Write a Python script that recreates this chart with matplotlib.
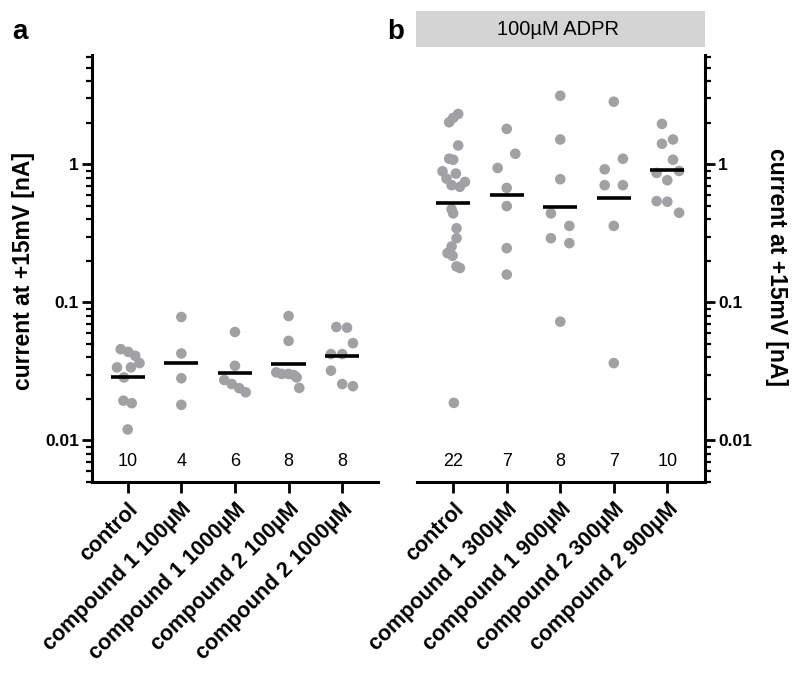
import matplotlib
matplotlib.use('Agg')
import matplotlib.pyplot as plt
import matplotlib.ticker as mticker
import matplotlib.transforms as mtrans
from matplotlib.patches import Rectangle
import numpy as np

plt.rcParams['font.family'] = ['Liberation Sans', 'DejaVu Sans']

# ---- panel a: no ADPR
labels_a = ['control', 'compound 1 100µM', 'compound 1 1000µM',
            'compound 2 100µM', 'compound 2 1000µM']
vals_a = [
    [0.0458, 0.0438, 0.0410, 0.0363, 0.0338, 0.0338, 0.0286, 0.0194, 0.0186, 0.0120],
    [0.0783, 0.0426, 0.0282, 0.0181],
    [0.0610, 0.0347, 0.0274, 0.0256, 0.0239, 0.0223],
    [0.0796, 0.0526, 0.0311, 0.0303, 0.0303, 0.0297, 0.0286, 0.0240],
    [0.0663, 0.0656, 0.0506, 0.0422, 0.0422, 0.0320, 0.0256, 0.0247],
]
dx_a = [
    [-0.13, 0.01, 0.14, 0.22, -0.20, 0.06, -0.07, -0.08, 0.075, 0.0],
    [0.0, 0.0, 0.0, 0.0],
    [0.0, 0.0, -0.20, -0.06, 0.08, 0.20],
    [0.0, 0.0, -0.23, -0.13, 0.0, 0.10, 0.15, 0.20],
    [-0.11, 0.09, 0.20, -0.21, 0.0, -0.21, 0.0, 0.20],
]
means_a = [0.029, 0.0363, 0.0306, 0.0357, 0.0410]
n_a = [10, 4, 6, 8, 8]

# ---- panel b: 100µM ADPR
labels_b = ['control', 'compound 1 300µM', 'compound 1 900µM',
            'compound 2 300µM', 'compound 2 900µM']
vals_b = [
    [2.316, 2.168, 2.017, 1.370, 1.098, 1.080, 0.890, 0.857, 0.788, 0.746, 0.706,
     0.687, 0.472, 0.441, 0.344, 0.2915, 0.254, 0.2275, 0.2176, 0.1823, 0.1773, 0.0187],
    [1.807, 1.193, 0.941, 0.675, 0.498, 0.247, 0.159],
    [3.139, 1.514, 0.780, 0.441, 0.358, 0.2915, 0.2685, 0.0725],
    [2.842, 1.098, 0.920, 0.706, 0.706, 0.358, 0.0363],
    [1.963, 1.409, 1.514, 1.080, 0.866, 0.895, 0.767, 0.541, 0.536, 0.446],
]
dx_b = [
    [0.093, 0.0, -0.075, 0.093, -0.075, 0.0, -0.20, 0.05, -0.125, 0.22, -0.03,
     0.125, -0.03, 0.0, 0.062, 0.062, -0.03, -0.106, -0.012, 0.062, 0.125, 0.012],
    [0.0, 0.16, -0.17, 0.0, 0.0, 0.0, 0.0],
    [0.0, 0.0, 0.0, -0.175, 0.17, -0.175, 0.17, 0.0],
    [0.0, 0.17, -0.17, -0.17, 0.17, 0.0, 0.0],
    [-0.10, -0.10, 0.106, 0.106, -0.20, 0.22, 0.0, -0.20, 0.0, 0.22],
]
means_b = [0.521, 0.598, 0.493, 0.566, 0.905]
n_b = [22, 7, 8, 7, 10]

dot_color = '#a0a0a5'
ylabel = 'current at +15mV [nA]'


def draw_panel(ax, labels, vals, dx, means, n, side):
    for i in range(len(labels)):
        x = i + np.array(dx[i])
        ax.scatter(x, vals[i], s=58, color=dot_color, edgecolors='none', zorder=2)
        ax.hlines(means[i], i - 0.32, i + 0.32, color='black', lw=2.6, zorder=3)
    # group sizes along the bottom
    trans = mtrans.blended_transform_factory(ax.transData, ax.transAxes)
    for i, c in enumerate(n):
        ax.text(i, 0.049, str(c), transform=trans, ha='center', va='center', fontsize=13)

    ax.set_yscale('log')
    ax.set_ylim(0.005, 6.2)
    ax.yaxis.set_major_locator(mticker.FixedLocator([0.01, 0.1, 1]))
    ax.yaxis.set_major_formatter(mticker.FixedFormatter(['0.01', '0.1', '1']))
    ax.yaxis.set_minor_locator(mticker.LogLocator(base=10, subs=np.arange(2, 10), numticks=20))
    ax.yaxis.set_minor_formatter(mticker.NullFormatter())

    ax.set_xticks(range(len(labels)))
    ax.set_xticklabels(labels, rotation=45, ha='right', rotation_mode='anchor',
                       fontsize=15.5, fontweight='bold')
    for s in ['top', 'left', 'right', 'bottom']:
        ax.spines[s].set_linewidth(2.2)
    ax.spines['top'].set_visible(False)
    if side == 'left':
        ax.spines['right'].set_visible(False)
    else:
        ax.spines['left'].set_visible(False)
        ax.yaxis.tick_right()
    ax.tick_params(axis='y', which='major', length=7.5, width=2, labelsize=12.5, pad=2)
    ax.tick_params(axis='y', which='minor', length=4.5, width=1.6)
    ax.tick_params(axis='x', which='major', length=8, width=2, pad=4)
    for t in ax.get_yticklabels():
        t.set_fontweight('bold')


fig = plt.figure(figsize=(8, 6.75), dpi=100)
ax1 = fig.add_axes([0.115, 0.286, 0.357, 0.6326])
ax2 = fig.add_axes([0.521, 0.286, 0.36, 0.6326])

draw_panel(ax1, labels_a, vals_a, dx_a, means_a, n_a, 'left')
draw_panel(ax2, labels_b, vals_b, dx_b, means_b, n_b, 'right')
ax1.set_xlim(-0.666, 4.66)
ax2.set_xlim(-0.68, 4.70)

fig.text(0.03, 0.598, ylabel, rotation=90, ha='center', va='center',
         fontsize=16.5, fontweight='bold')
fig.text(0.971, 0.605, ylabel, rotation=270, ha='center', va='center',
         fontsize=16.5, fontweight='bold')

fig.text(0.025, 0.952, 'a', fontsize=20, fontweight='bold', ha='center', va='center')
fig.text(0.494, 0.952, 'b', fontsize=20, fontweight='bold', ha='center', va='center')

fig.patches.append(Rectangle((0.52, 0.931), 0.361, 0.052, transform=fig.transFigure,
                             facecolor='#d4d4d4', edgecolor='none'))
fig.text(0.6975, 0.957, '100µM ADPR', fontsize=14.5, ha='center', va='center')

fig.savefig('out.png', dpi=100)
